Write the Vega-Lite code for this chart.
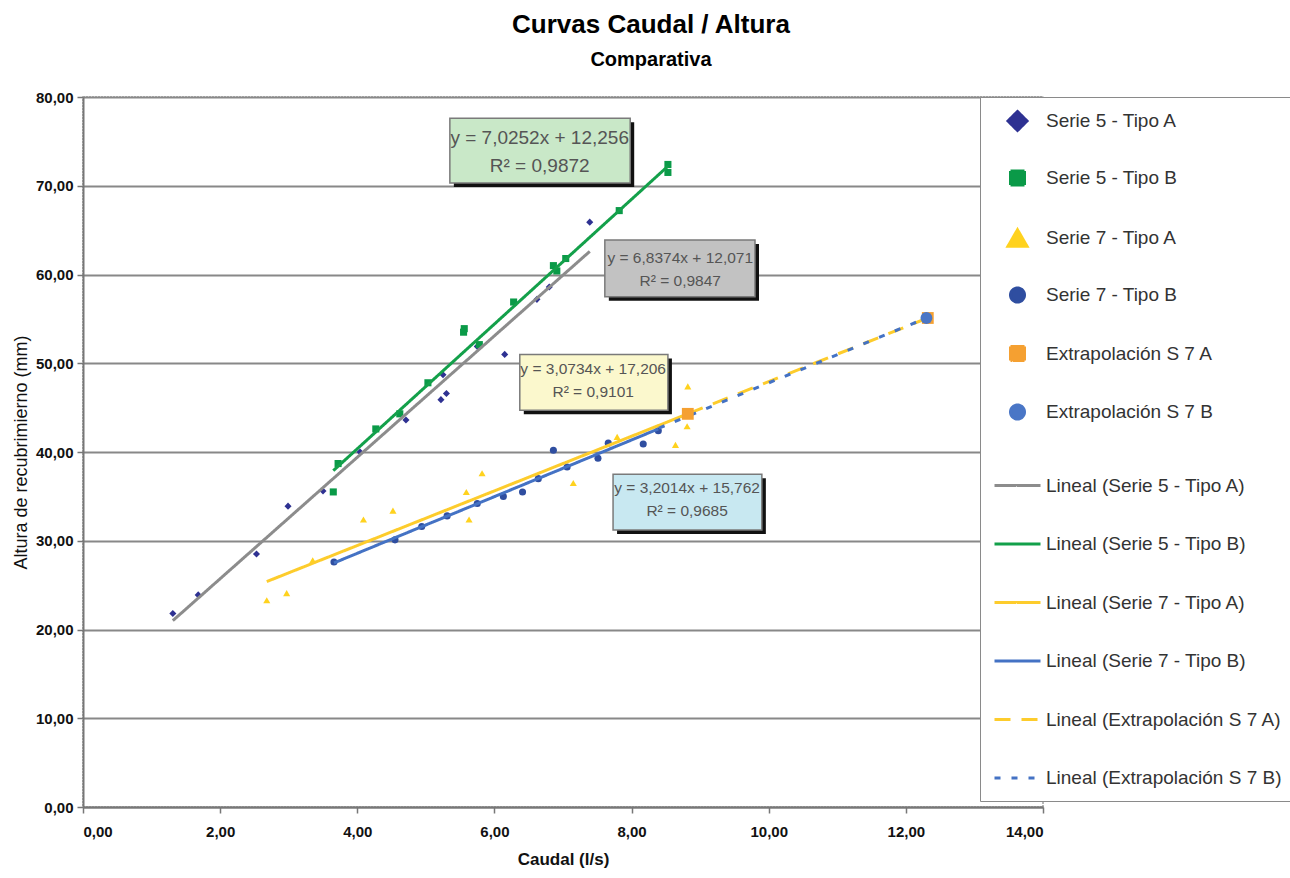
{
  "$schema": "https://vega.github.io/schema/vega-lite/v6.json",
  "width": 960,
  "height": 710,
  "autosize": {"type": "none"},
  "padding": {"left": 83, "top": 97, "right": 247, "bottom": 71},
  "background": "white",
  "config": {
    "font": "Liberation Sans",
    "view": {"stroke": "#a0a0a0", "strokeWidth": 1.5, "strokeDash": [2, 1]}
  },
  "title": {
    "text": "Curvas Caudal / Altura",
    "subtitle": "Comparativa",
    "font": "Liberation Sans",
    "subtitleFont": "Liberation Sans",
    "fontSize": 26,
    "fontWeight": "bold",
    "color": "#000",
    "subtitleFontSize": 20,
    "subtitleFontWeight": "bold",
    "subtitleColor": "#000",
    "anchor": "middle",
    "dx": 88,
    "offset": 20,
    "subtitlePadding": 12
  },
  "datasets": {
    "pts": [
      {"series": "Serie 5 - Tipo A", "x": 1.31, "y": 21.8},
      {"series": "Serie 5 - Tipo A", "x": 1.68, "y": 23.9},
      {"series": "Serie 5 - Tipo A", "x": 2.53, "y": 28.5},
      {"series": "Serie 5 - Tipo A", "x": 2.99, "y": 33.9},
      {"series": "Serie 5 - Tipo A", "x": 3.5, "y": 35.6},
      {"series": "Serie 5 - Tipo A", "x": 4.04, "y": 40.0},
      {"series": "Serie 5 - Tipo A", "x": 4.71, "y": 43.6},
      {"series": "Serie 5 - Tipo A", "x": 5.22, "y": 45.9},
      {"series": "Serie 5 - Tipo A", "x": 5.3, "y": 46.6},
      {"series": "Serie 5 - Tipo A", "x": 5.25, "y": 48.7},
      {"series": "Serie 5 - Tipo A", "x": 5.75, "y": 51.9},
      {"series": "Serie 5 - Tipo A", "x": 6.15, "y": 51.0},
      {"series": "Serie 5 - Tipo A", "x": 6.62, "y": 57.2},
      {"series": "Serie 5 - Tipo A", "x": 6.8, "y": 58.6},
      {"series": "Serie 5 - Tipo A", "x": 7.39, "y": 65.9},
      {"series": "Serie 5 - Tipo B", "x": 3.65, "y": 35.5},
      {"series": "Serie 5 - Tipo B", "x": 3.72, "y": 38.7},
      {"series": "Serie 5 - Tipo B", "x": 4.27, "y": 42.6},
      {"series": "Serie 5 - Tipo B", "x": 4.62, "y": 44.3},
      {"series": "Serie 5 - Tipo B", "x": 5.03, "y": 47.8},
      {"series": "Serie 5 - Tipo B", "x": 5.55, "y": 53.5},
      {"series": "Serie 5 - Tipo B", "x": 5.56, "y": 53.9},
      {"series": "Serie 5 - Tipo B", "x": 5.78, "y": 52.1},
      {"series": "Serie 5 - Tipo B", "x": 6.28, "y": 56.9},
      {"series": "Serie 5 - Tipo B", "x": 6.86, "y": 61.0},
      {"series": "Serie 5 - Tipo B", "x": 6.91, "y": 60.4},
      {"series": "Serie 5 - Tipo B", "x": 7.04, "y": 61.8},
      {"series": "Serie 5 - Tipo B", "x": 7.82, "y": 67.2},
      {"series": "Serie 5 - Tipo B", "x": 8.53, "y": 72.4},
      {"series": "Serie 5 - Tipo B", "x": 8.53, "y": 71.5},
      {"series": "Serie 7 - Tipo A", "x": 2.68, "y": 23.3},
      {"series": "Serie 7 - Tipo A", "x": 2.97, "y": 24.1},
      {"series": "Serie 7 - Tipo A", "x": 3.35, "y": 27.8},
      {"series": "Serie 7 - Tipo A", "x": 4.09, "y": 32.4},
      {"series": "Serie 7 - Tipo A", "x": 4.52, "y": 33.4},
      {"series": "Serie 7 - Tipo A", "x": 5.59, "y": 35.5},
      {"series": "Serie 7 - Tipo A", "x": 5.63, "y": 32.4},
      {"series": "Serie 7 - Tipo A", "x": 5.82, "y": 37.6},
      {"series": "Serie 7 - Tipo A", "x": 7.15, "y": 36.5},
      {"series": "Serie 7 - Tipo A", "x": 7.79, "y": 41.7},
      {"series": "Serie 7 - Tipo A", "x": 8.64, "y": 40.8},
      {"series": "Serie 7 - Tipo A", "x": 8.81, "y": 42.9},
      {"series": "Serie 7 - Tipo A", "x": 8.82, "y": 47.4},
      {"series": "Serie 7 - Tipo B", "x": 3.66, "y": 27.6},
      {"series": "Serie 7 - Tipo B", "x": 4.55, "y": 30.1},
      {"series": "Serie 7 - Tipo B", "x": 4.94, "y": 31.6},
      {"series": "Serie 7 - Tipo B", "x": 5.31, "y": 32.8},
      {"series": "Serie 7 - Tipo B", "x": 5.75, "y": 34.2},
      {"series": "Serie 7 - Tipo B", "x": 6.13, "y": 35.0},
      {"series": "Serie 7 - Tipo B", "x": 6.41, "y": 35.5},
      {"series": "Serie 7 - Tipo B", "x": 6.64, "y": 37.0},
      {"series": "Serie 7 - Tipo B", "x": 6.86, "y": 40.2},
      {"series": "Serie 7 - Tipo B", "x": 7.06, "y": 38.3},
      {"series": "Serie 7 - Tipo B", "x": 7.51, "y": 39.3},
      {"series": "Serie 7 - Tipo B", "x": 7.66, "y": 41.0},
      {"series": "Serie 7 - Tipo B", "x": 8.17, "y": 40.9},
      {"series": "Serie 7 - Tipo B", "x": 8.39, "y": 42.4}
    ],
    "ext": [
      {"series": "Extrapolación S 7 A", "x": 8.82, "y": 44.3},
      {"series": "Extrapolación S 7 A", "x": 12.32, "y": 55.1},
      {"series": "Extrapolación S 7 B", "x": 12.3, "y": 55.1}
    ],
    "trend": [
      {"series": "Lineal (Serie 5 - Tipo A)", "x": 1.31, "y": 21.0},
      {"series": "Lineal (Serie 5 - Tipo A)", "x": 7.39, "y": 62.6},
      {"series": "Lineal (Serie 5 - Tipo B)", "x": 3.65, "y": 37.9},
      {"series": "Lineal (Serie 5 - Tipo B)", "x": 8.53, "y": 72.2},
      {"series": "Lineal (Serie 7 - Tipo A)", "x": 2.68, "y": 25.4},
      {"series": "Lineal (Serie 7 - Tipo A)", "x": 8.82, "y": 44.3},
      {"series": "Lineal (Serie 7 - Tipo B)", "x": 3.66, "y": 27.5},
      {"series": "Lineal (Serie 7 - Tipo B)", "x": 8.39, "y": 42.6},
      {"series": "Lineal (Extrapolación S 7 A)", "x": 8.82, "y": 44.3},
      {"series": "Lineal (Extrapolación S 7 A)", "x": 12.32, "y": 55.1},
      {"series": "Lineal (Extrapolación S 7 B)", "x": 8.4, "y": 42.7},
      {"series": "Lineal (Extrapolación S 7 B)", "x": 12.3, "y": 55.1}
    ],
    "notes": [
      {"box": "g", "x": 5.35, "xe": 7.98, "y": 70.3, "ye": 77.6, "xc": 6.66, "yc": 75.4, "t": ["y = 7,0252x + 12,256", "R² = 0,9872"]},
      {"box": "k", "x": 7.61, "xe": 9.8, "y": 57.5, "ye": 63.9, "xc": 8.71, "yc": 61.9, "t": ["y = 6,8374x + 12,071", "R² = 0,9847"]},
      {"box": "yl", "x": 6.37, "xe": 8.53, "y": 44.7, "ye": 51.0, "xc": 7.44, "yc": 49.4, "t": ["y = 3,0734x + 17,206", "R² = 0,9101"]},
      {"box": "b", "x": 7.73, "xe": 9.9, "y": 31.2, "ye": 37.5, "xc": 8.81, "yc": 35.9, "t": ["y = 3,2014x + 15,762", "R² = 0,9685"]}
    ]
  },
  "layer": [
    {
      "data": {"name": "pts"},
      "mark": {"type": "point", "filled": true, "size": 50, "opacity": 1},
      "encoding": {
        "x": {
          "field": "x", "type": "quantitative",
          "scale": {"domain": [0, 14], "nice": false},
          "axis": {
            "title": "Caudal (l/s)",
            "values": [0, 2, 4, 6, 8, 10, 12, 14],
            "grid": false,
            "labelExpr": "replace(format(datum.value, '.2f'), '.', ',')",
            "labelFont": "Liberation Sans",
            "labelFontWeight": "bold",
            "labelFontSize": 15,
            "labelColor": "#111",
            "labelPadding": 11,
            "tickColor": "#777",
            "tickSize": 6,
            "tickWidth": 1.5,
            "domainColor": "#777",
            "domainWidth": 2,
            "titleFont": "Liberation Sans",
            "titleFontSize": 17,
            "titleFontWeight": "bold",
            "titleColor": "#111",
            "titlePadding": 12
          }
        },
        "y": {
          "field": "y", "type": "quantitative",
          "scale": {"domain": [0, 80], "nice": false},
          "axis": {
            "title": "Altura de recubrimierno (mm)",
            "values": [0, 10, 20, 30, 40, 50, 60, 70, 80],
            "grid": true,
            "gridColor": "#888888",
            "gridWidth": 2,
            "labelExpr": "replace(format(datum.value, '.2f'), '.', ',')",
            "labelFont": "Liberation Sans",
            "labelFontWeight": "bold",
            "labelFontSize": 15,
            "labelColor": "#111",
            "labelPadding": 4,
            "tickColor": "#777",
            "tickSize": 6,
            "tickWidth": 1.5,
            "domainColor": "#777",
            "domainWidth": 2,
            "titleFont": "Liberation Sans",
            "titleFontSize": 18,
            "titleFontWeight": "normal",
            "titleColor": "#111",
            "titlePadding": 5
          }
        },
        "color": {
          "field": "series", "type": "nominal",
          "scale": {
            "domain": ["Serie 5 - Tipo A", "Serie 5 - Tipo B", "Serie 7 - Tipo A", "Serie 7 - Tipo B", "Extrapolación S 7 A", "Extrapolación S 7 B", "Lineal (Serie 5 - Tipo A)", "Lineal (Serie 5 - Tipo B)", "Lineal (Serie 7 - Tipo A)", "Lineal (Serie 7 - Tipo B)", "Lineal (Extrapolación S 7 A)", "Lineal (Extrapolación S 7 B)"],
            "range": ["#2e3192", "#0a9a48", "#ffd21e", "#2f4ea0", "#f5a031", "#4a76c6", "#8c8c8c", "#13a04a", "#fdcc2c", "#4472c4", "#fdcc2c", "#4472c4"]
          },
          "legend": {
            "title": null,
            "orient": "none",
            "legendX": 897,
            "legendY": 0,
            "padding": 13,
            "fillColor": "white",
            "strokeColor": "#8a8a8a",
            "labelFont": "Liberation Sans",
            "labelFontSize": 19,
            "labelColor": "#333",
            "labelLimit": 400,
            "labelOffset": 4,
            "symbolStrokeWidth": 3,
            "symbolOpacity": 1,
            "gridAlign": "all",
            "rowPadding": 19.5
          }
        },
        "shape": {
          "field": "series", "type": "nominal",
          "scale": {
            "domain": ["Serie 5 - Tipo A", "Serie 5 - Tipo B", "Serie 7 - Tipo A", "Serie 7 - Tipo B", "Extrapolación S 7 A", "Extrapolación S 7 B", "Lineal (Serie 5 - Tipo A)", "Lineal (Serie 5 - Tipo B)", "Lineal (Serie 7 - Tipo A)", "Lineal (Serie 7 - Tipo B)", "Lineal (Extrapolación S 7 A)", "Lineal (Extrapolación S 7 B)"],
            "range": ["diamond", "square", "triangle-up", "circle", "square", "circle", "M-1,0L1,0", "M-1,0L1,0", "M-1,0L1,0", "M-1,0L1,0", "M-1,0L1,0", "M-1,0L1,0"]
          }
        }
      }
    },
    {
      "data": {"name": "trend"},
      "mark": {"type": "line", "strokeWidth": 3},
      "encoding": {
        "x": {"field": "x", "type": "quantitative"},
        "y": {"field": "y", "type": "quantitative"},
        "color": {"field": "series", "type": "nominal"},
        "strokeDash": {
          "field": "series", "type": "nominal",
          "scale": {
            "domain": ["Serie 5 - Tipo A", "Serie 5 - Tipo B", "Serie 7 - Tipo A", "Serie 7 - Tipo B", "Extrapolación S 7 A", "Extrapolación S 7 B", "Lineal (Serie 5 - Tipo A)", "Lineal (Serie 5 - Tipo B)", "Lineal (Serie 7 - Tipo A)", "Lineal (Serie 7 - Tipo B)", "Lineal (Extrapolación S 7 A)", "Lineal (Extrapolación S 7 B)"],
            "range": [[1, 0], [1, 0], [1, 0], [1, 0], [1, 0], [1, 0], [1, 0], [1, 0], [1, 0], [1, 0], [16, 11], [6, 11]]
          }
        }
      }
    },
    {
      "data": {"name": "trend"},
      "mark": {"type": "point", "opacity": 0, "filled": true},
      "encoding": {
        "x": {"field": "x", "type": "quantitative"},
        "y": {"field": "y", "type": "quantitative"},
        "size": {
          "field": "series", "type": "nominal",
          "scale": {
            "type": "ordinal",
            "domain": ["Serie 5 - Tipo A", "Serie 5 - Tipo B", "Serie 7 - Tipo A", "Serie 7 - Tipo B", "Extrapolación S 7 A", "Extrapolación S 7 B", "Lineal (Serie 5 - Tipo A)", "Lineal (Serie 5 - Tipo B)", "Lineal (Serie 7 - Tipo A)", "Lineal (Serie 7 - Tipo B)", "Lineal (Extrapolación S 7 A)", "Lineal (Extrapolación S 7 B)"],
            "range": [361, 196, 361, 196, 196, 196, 2116, 2116, 2116, 2116, 2116, 2116]
          }
        }
      }
    },
    {
      "data": {"name": "ext"},
      "mark": {"type": "point", "filled": true, "size": 140, "opacity": 1},
      "encoding": {
        "x": {"field": "x", "type": "quantitative"},
        "y": {"field": "y", "type": "quantitative"},
        "color": {"field": "series", "type": "nominal"},
        "shape": {"field": "series", "type": "nominal"}
      }
    },
    {
      "data": {"name": "notes"},
      "mark": {"type": "rect", "color": "#111", "xOffset": 4, "x2Offset": 4, "yOffset": 4, "y2Offset": 4},
      "encoding": {
        "x": {"field": "x", "type": "quantitative"},
        "x2": {"field": "xe"},
        "y": {"field": "y", "type": "quantitative"},
        "y2": {"field": "ye"}
      }
    },
    {
      "data": {"name": "notes"},
      "mark": {"type": "rect", "stroke": "#7a7a7a", "strokeWidth": 1.5},
      "encoding": {
        "x": {"field": "x", "type": "quantitative"},
        "x2": {"field": "xe"},
        "y": {"field": "y", "type": "quantitative"},
        "y2": {"field": "ye"},
        "fill": {
          "field": "box", "type": "nominal",
          "scale": {"domain": ["g", "k", "yl", "b"], "range": ["#c9e8c8", "#c2c2c2", "#fbf8cd", "#c8e8f1"]},
          "legend": null
        }
      }
    },
    {
      "data": {"name": "notes"},
      "transform": [{"filter": "datum.box === 'g'"}],
      "mark": {"type": "text", "align": "center", "baseline": "middle", "font": "Liberation Sans", "fontSize": 19, "lineHeight": 28, "color": "#555"},
      "encoding": {
        "x": {"field": "xc", "type": "quantitative"},
        "y": {"field": "yc", "type": "quantitative"},
        "text": {"field": "t"}
      }
    },
    {
      "data": {"name": "notes"},
      "transform": [{"filter": "datum.box !== 'g'"}],
      "mark": {"type": "text", "align": "center", "baseline": "middle", "font": "Liberation Sans", "fontSize": 15.5, "lineHeight": 23, "color": "#555"},
      "encoding": {
        "x": {"field": "xc", "type": "quantitative"},
        "y": {"field": "yc", "type": "quantitative"},
        "text": {"field": "t"}
      }
    }
  ]
}
